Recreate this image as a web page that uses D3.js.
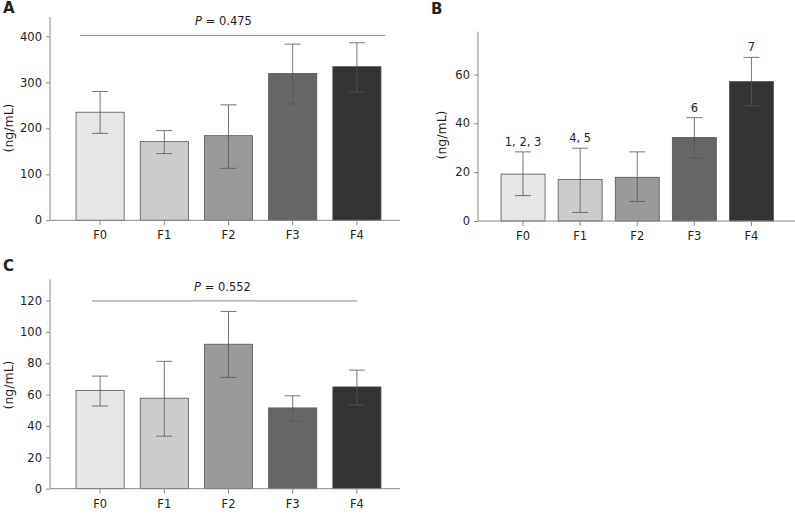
<!DOCTYPE html>
<html>
<head>
<meta charset="utf-8">
<script src="https://cdn.jsdelivr.net/npm/d3@7"></script>
<style>
  body { margin: 0; background: #fff; }
  text { font-family: "DejaVu Sans", Verdana, sans-serif; fill: #222; }
</style>
</head>
<body>
<svg id="chart" width="795" height="517" viewBox="0 0 795 517"></svg>
<script>

/* ----- data ----- */

let groups = ["F0", "F1", "F2", "F3", "F4"];
let barColors = ["#e6e6e6", "#cccccc", "#999999", "#666666", "#333333"];

// panel A
let meanA = [235, 171, 184, 319, 334];
let lowA  = [189, 145, 113, 253, 279];
let highA = [280, 195, 251, 383, 386];
let ticksA = [0, 100, 200, 300, 400];
let pTextA = "0.475";

// panel B
let meanB = [19.2, 17.0, 17.9, 34.2, 57.1];
let lowB  = [10.4, 3.5, 8.0, 25.7, 47.2];
let highB = [28.3, 29.8, 28.3, 42.3, 67.0];
let ticksB = [0, 20, 40, 60];
let notesB = ["1, 2, 3", "4, 5", "", "6", "7"];

// panel C
let meanC = [62.7, 57.7, 92.1, 51.5, 64.9];
let lowC  = [52.7, 33.5, 71.0, 43.0, 53.4];
let highC = [71.8, 81.2, 113.0, 59.2, 75.6];
let ticksC = [0, 20, 40, 60, 80, 100, 120];
let pTextC = "0.552";


let svg = d3.select("#chart");
let fs = 11.5;

function drawPanel(p)
{
    let g = svg.append("g");

    let y = d3.scaleLinear()
        .domain([0, p.top])
        .range([p.y0, p.yTop]);

    let x = d3.scaleBand()
        .domain(groups)
        .range(p.xRange)
        .paddingInner(p.pad)
        .paddingOuter(p.pad / 2);

    let rows = groups.map((k, i) => ({
        k: k, mean: p.mean[i], lo: p.low[i], hi: p.high[i],
        color: barColors[i], note: p.notes ? p.notes[i] : ""
    }));

    /* bars */
    g.selectAll(".bar")
        .data(rows)
        .enter()
        .append("rect")
        .attr("class", "bar")
        .attr("x", d => x(d.k))
        .attr("width", x.bandwidth())
        .attr("y", d => y(d.mean))
        .attr("height", d => y(0) - y(d.mean))
        .attr("fill", d => d.color)
        .attr("stroke", "#555")
        .attr("stroke-width", 0.8);

    /* error bars */
    let cap = 8;
    let err = g.selectAll(".err")
        .data(rows)
        .enter()
        .append("g")
        .attr("class", "err")
        .attr("stroke", "#555")
        .attr("stroke-width", 0.8);

    err.append("line")
        .attr("x1", d => x(d.k) + x.bandwidth() / 2)
        .attr("x2", d => x(d.k) + x.bandwidth() / 2)
        .attr("y1", d => y(d.lo))
        .attr("y2", d => y(d.hi));
    err.append("line")
        .attr("x1", d => x(d.k) + x.bandwidth() / 2 - cap)
        .attr("x2", d => x(d.k) + x.bandwidth() / 2 + cap)
        .attr("y1", d => y(d.hi))
        .attr("y2", d => y(d.hi));
    err.append("line")
        .attr("x1", d => x(d.k) + x.bandwidth() / 2 - cap)
        .attr("x2", d => x(d.k) + x.bandwidth() / 2 + cap)
        .attr("y1", d => y(d.lo))
        .attr("y2", d => y(d.lo));

    /* notes above error bars */
    g.selectAll(".note")
        .data(rows.filter(d => d.note))
        .enter()
        .append("text")
        .attr("class", "note")
        .attr("x", d => x(d.k) + x.bandwidth() / 2)
        .attr("y", d => y(d.hi) - 6)
        .attr("text-anchor", "middle")
        .attr("font-size", fs)
        .text(d => d.note);

    /* y axis */
    let yAxis = g.append("g")
        .attr("transform", `translate(${p.xAxis[0]},0)`)
        .call(d3.axisLeft(y).tickValues(p.ticks).tickSize(4).tickPadding(4).tickSizeOuter(0));
    yAxis.select(".domain").remove();
    yAxis.selectAll("line").attr("stroke", "#888");
    yAxis.selectAll("text").attr("font-size", fs).attr("font-family", null).attr("fill", "#222");

    g.append("line")
        .attr("x1", p.xAxis[0]).attr("x2", p.xAxis[0])
        .attr("y1", y(0)).attr("y2", y(p.top))
        .attr("stroke", "#888");

    /* x axis */
    let xAxis = g.append("g")
        .attr("transform", `translate(0,${y(0)})`)
        .call(d3.axisBottom(x).tickSize(5).tickPadding(6).tickSizeOuter(0));
    xAxis.select(".domain").remove();
    xAxis.selectAll("line").attr("stroke", "#888");
    xAxis.selectAll("text").attr("font-size", fs).attr("font-family", null).attr("fill", "#222");

    g.append("line")
        .attr("x1", p.xAxis[0]).attr("x2", p.xAxis[1])
        .attr("y1", y(0)).attr("y2", y(0))
        .attr("stroke", "#888");

    /* y title */
    g.append("text")
        .attr("transform", `translate(${p.titleX},${p.titleY}) rotate(-90)`)
        .attr("text-anchor", "middle")
        .attr("dominant-baseline", "central")
        .attr("font-size", 12.5)
        .text("(ng/mL)");

    /* panel letter */
    g.append("text")
        .attr("x", p.letterX)
        .attr("y", p.letterY)
        .attr("font-size", 15)
        .attr("font-weight", "bold")
        .attr("fill", "#111")
        .text(p.letter);

    /* overall P value line */
    if (p.pText) {
        g.append("line")
            .attr("x1", p.pLine[0]).attr("x2", p.pLine[1])
            .attr("y1", y(p.pAt)).attr("y2", y(p.pAt))
            .attr("stroke", "#888");
        let t = g.append("text")
            .attr("x", (p.pLine[0] + p.pLine[1]) / 2 + (p.pShift || 0))
            .attr("y", y(p.pAt) - 10)
            .attr("text-anchor", "middle")
            .attr("font-size", fs);
        t.append("tspan").attr("font-style", "italic").text("P");
        t.append("tspan").text(" = " + p.pText);
    }
}

drawPanel({
    letter: "A", letterX: 3, letterY: 13,
    mean: meanA, low: lowA, high: highA, ticks: ticksA,
    top: 442, y0: 220.3, yTop: 17,
    xRange: [68, 389], pad: 0.25, xAxis: [50, 400],
    titleX: 8, titleY: 128,
    pText: pTextA, pAt: 402, pLine: [80, 385], pShift: -9
});

drawPanel({
    letter: "B", letterX: 431, letterY: 14,
    mean: meanB, low: lowB, high: highB, ticks: ticksB, notes: notesB,
    top: 77.5, y0: 221, yTop: 31.7,
    xRange: [494.5, 780], pad: 0.23, xAxis: [478, 795],
    titleX: 441, titleY: 135
});

drawPanel({
    letter: "C", letterX: 3, letterY: 271,
    mean: meanC, low: lowC, high: highC, ticks: ticksC,
    top: 133.5, y0: 488.7, yTop: 279.3,
    xRange: [68, 389], pad: 0.25, xAxis: [50, 400],
    titleX: 8, titleY: 385,
    pText: pTextC, pAt: 119.7, pLine: [92, 357], pShift: -2
});

</script>
</body>
</html>
